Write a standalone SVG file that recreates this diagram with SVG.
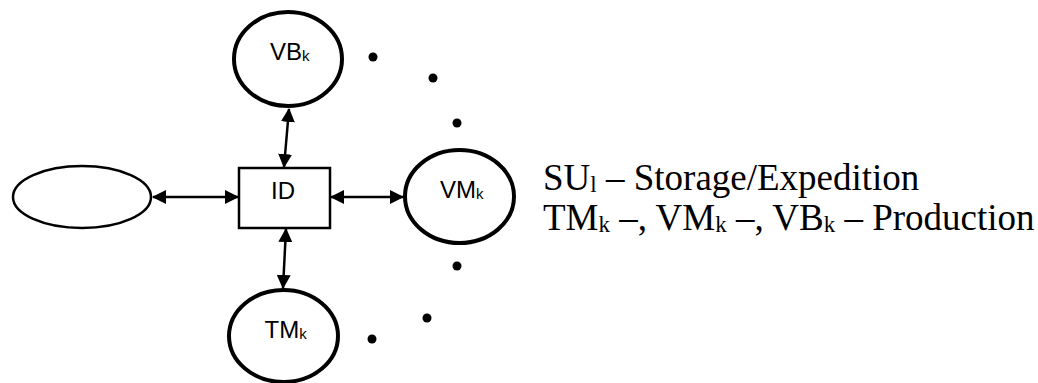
<svg xmlns="http://www.w3.org/2000/svg" width="1038" height="383" viewBox="0 0 1038 383">
<style>
.bold{fill:#fff;stroke:#000;stroke-width:4}
.thin{fill:#fff;stroke:#000;stroke-width:2.5}
.lbl{font-family:"Liberation Sans",Arial,sans-serif;font-size:24px;fill:#000}
.sub{font-size:15px}
.edge{stroke:#000;stroke-width:2.5;fill:none;marker-start:url(#ah);marker-end:url(#ah)}
.dot{fill:#000}
.legend{font-family:"Liberation Serif","Times New Roman",serif;font-size:37px;fill:#000}
.lsub{font-size:23px}
</style>
<defs>
<marker id="ah" viewBox="0 0 14 14" refX="13" refY="7" markerWidth="14" markerHeight="14" markerUnits="userSpaceOnUse" orient="auto-start-reverse">
<path d="M0,0 L14,7 L0,14 Z" fill="#000"/>
</marker>
</defs>
<rect width="1038" height="383" fill="#fff"/>
<g id="connectors">
<line class="edge" x1="153" y1="197" x2="238" y2="197"/>
<line class="edge" x1="331" y1="197" x2="403" y2="197"/>
<line class="edge" x1="289" y1="109" x2="284" y2="167"/>
<line class="edge" x1="286" y1="229" x2="283" y2="288"/>
</g>
<g id="node-su">
<ellipse class="thin" cx="82" cy="197" rx="69" ry="31"/>
</g>
<g id="node-id">
<rect class="thin" x="239" y="168" width="91" height="60"/>
<text class="lbl" x="283" y="199" text-anchor="middle">ID</text>
</g>
<g id="node-vb">
<ellipse class="bold" cx="288" cy="59" rx="54" ry="47"/>
<text class="lbl" x="270" y="60">VB<tspan class="sub" dy="1">k</tspan></text>
</g>
<g id="node-vm">
<ellipse class="bold" cx="459.5" cy="196.5" rx="54.5" ry="46.5"/>
<text class="lbl" x="440" y="198">VM<tspan class="sub" dy="1">k</tspan></text>
</g>
<g id="node-tm">
<ellipse class="bold" cx="283.5" cy="336" rx="54.5" ry="46"/>
<text class="lbl" x="264.5" y="338">TM<tspan class="sub" dy="1">k</tspan></text>
</g>
<g id="dots">
<circle class="dot" cx="373" cy="57" r="4.5"/>
<circle class="dot" cx="433" cy="78" r="4.5"/>
<circle class="dot" cx="457" cy="123" r="4.5"/>
<circle class="dot" cx="457" cy="266" r="4.5"/>
<circle class="dot" cx="427" cy="318" r="4.5"/>
<circle class="dot" cx="372" cy="339" r="4.5"/>
</g>
<g id="legend">
<text class="legend" x="543" y="190">SU<tspan class="lsub" dy="2">l</tspan><tspan dy="-2"> – Storage/Expedition</tspan></text>
<text class="legend" x="543" y="230">TM<tspan class="lsub" dy="2">k</tspan><tspan dy="-2"> –, VM</tspan><tspan class="lsub" dy="2">k</tspan><tspan dy="-2"> –, VB</tspan><tspan class="lsub" dy="2">k</tspan><tspan dy="-2"> – Production</tspan></text>
</g>
</svg>
